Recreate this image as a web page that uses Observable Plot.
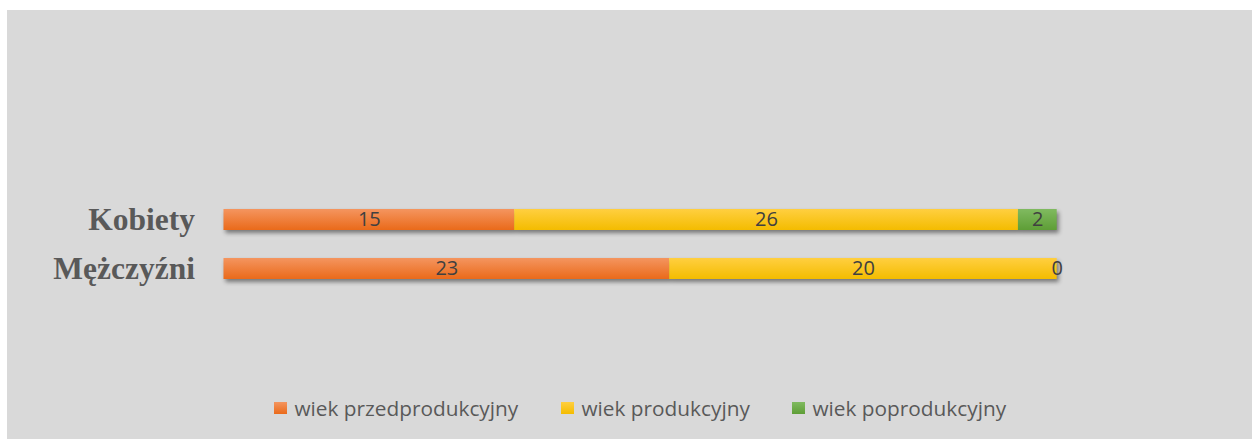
<!DOCTYPE html>
<html>
<head>
<meta charset="utf-8">
<script src="https://cdn.jsdelivr.net/npm/d3@7"></script>
<script src="https://cdn.jsdelivr.net/npm/@observablehq/plot@0.6"></script>
<style>
  html, body { margin: 0; padding: 0; background: #ffffff; }
  #panel { position: absolute; left: 7px; top: 10px; width: 1245px; height: 429px; background: #d9d9d9; overflow: hidden; }
  #legend { position: absolute; left: 0; top: 375px; width: 1245px; height: 54px; font-family: "Open Sans", sans-serif; font-size: 20.8px; color: #595959; }
  .item { position: absolute; top: 9px; display: flex; align-items: center; height: 28px; white-space: nowrap; }
  .sw { width: 12.5px; height: 12.5px; margin-right: 8px; }
</style>
</head>
<body>
<div id="panel"><div id="chart"></div><div id="legend"></div></div>
<script>
const categories = ["Kobiety", "Mężczyźni"];
const series = ["wiek przedprodukcyjny", "wiek produkcyjny", "wiek poprodukcyjny"];
const kobiety = [15, 26, 2];
const mezczyzni = [23, 20, 0];
const colors = ["#ED7D31", "#FFC000", "#70AD47"];
const colorsTop = ["#f4955f", "#ffcf40", "#80ba60"];
const colorsBottom = ["#ea6a1a", "#f4bc00", "#5e9e36"];

const valuesByCat = [kobiety, mezczyzni];
const data = categories.flatMap((c, i) => series.map((s, j) => ({cat: c, series: s, value: valuesByCat[i][j]})));
const gradIds = series.map((s, j) => "grad" + j);

const plot = Plot.plot({
  width: 1245,
  height: 375,
  marginLeft: 216.5,
  marginRight: 195.3,
  marginTop: 0,
  marginBottom: 0,
  style: {background: "transparent", fontFamily: "Open Sans, sans-serif", overflow: "visible"},
  x: {domain: [0, 43], axis: null},
  y: {domain: categories, range: [199, 270], paddingInner: 0.5657, paddingOuter: 0, label: null, axis: null},
  color: {domain: series, range: gradIds.map(id => `url(#${id})`)},
  marks: [
    Plot.barX(data, {x: "value", y: "cat", fill: "series"}),
    Plot.text(data, Plot.stackX({x: "value", y: "cat", text: d => String(d.value), fill: "#404040", fontSize: 20, fontFamily: "Open Sans, sans-serif"})),
    Plot.axisY({tickSize: 0, tickPadding: 29, fontSize: 31.5, fontWeight: "bold", fontFamily: "Liberation Serif, serif", color: "#595959", label: null})
  ]
});

const svg = d3.select(plot);
const defs = svg.insert("defs", ":first-child");
gradIds.forEach((id, j) => {
  const g = defs.append("linearGradient").attr("id", id).attr("x1", 0).attr("y1", 0).attr("x2", 0).attr("y2", 1);
  g.append("stop").attr("offset", "0%").attr("stop-color", colorsTop[j]);
  g.append("stop").attr("offset", "100%").attr("stop-color", colorsBottom[j]);
});
svg.select('g[aria-label="bar"]').style("filter", "drop-shadow(2px 3px 2px rgba(0,0,0,0.45))");
document.getElementById("chart").appendChild(plot);

const legendLefts = [267, 554, 785];
const legend = d3.select("#legend");
series.forEach((s, j) => {
  const it = legend.append("div").attr("class", "item").style("left", legendLefts[j] + "px");
  it.append("div").attr("class", "sw").style("background", `linear-gradient(${colorsTop[j]}, ${colorsBottom[j]})`);
  it.append("span").text(s);
});
</script>
</body>
</html>
